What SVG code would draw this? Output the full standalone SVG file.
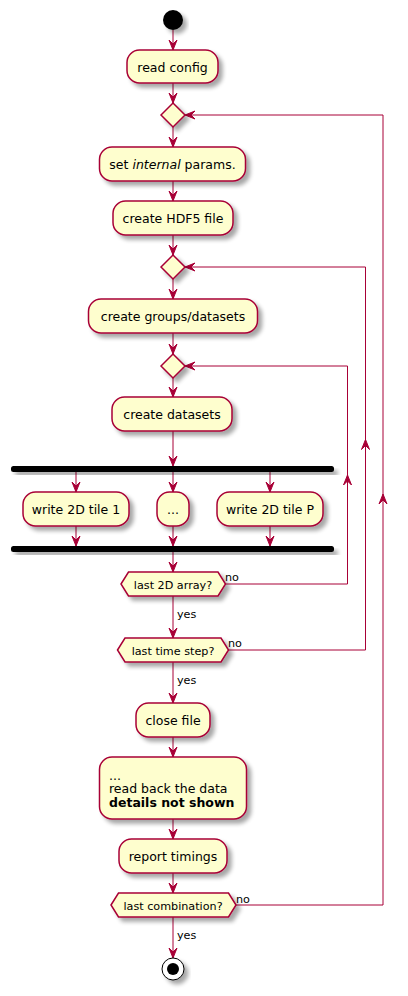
<svg xmlns="http://www.w3.org/2000/svg" xmlns:xlink="http://www.w3.org/1999/xlink" width="408" height="996" viewBox="0 0 408 996">
<style>
.box{fill:#FEFECE;stroke:#A80036;stroke-width:1.5;filter:url(#sh)}
.bar{fill:#000000;stroke:none;filter:url(#sh)}
.t{font-family:"DejaVu Sans","Liberation Sans",sans-serif;font-size:12.5px;fill:#000}
.d{font-family:"DejaVu Sans","Liberation Sans",sans-serif;font-size:11.2px;fill:#000}
.c{text-anchor:middle}
.ln{fill:none;stroke:#A80036;stroke-width:1}
</style>
<defs>
<filter id="sh" x="-20%" y="-20%" width="150%" height="170%">
<feGaussianBlur in="SourceAlpha" stdDeviation="2" result="b"/>
<feOffset in="b" dx="4" dy="4" result="o"/>
<feComponentTransfer in="o" result="s"><feFuncA type="linear" slope="0.35"/></feComponentTransfer>
<feMerge><feMergeNode in="s"/><feMergeNode in="SourceGraphic"/></feMerge>
</filter>
<path id="ah" d="M-4,-10 L0,0 L4,-10 L0,-6 Z" fill="#A80036" stroke="#A80036" stroke-width="1"/>
</defs>

<g id="connectors">
<path class="ln" d="M173,30 V50 M173,83 V103 M173,127 V147 M173,181 V201 M173,235 V255 M173,279 V299 M173,333 V354 M173,378 V397 M173,431 V466 M76,472 V492 M173,472 V492 M270,472 V492 M76,526 V546 M173,526 V546 M270,526 V546 M173,552 V572 M173,596 V638 M173,662 V703 M173,737 V757 M173,819 V839 M173,873 V893 M173,917 V958"/>
<path class="ln" d="M226,584 H347.5 V366 H185"/>
<path class="ln" d="M228,650 H365.5 V267 H185"/>
<path class="ln" d="M236,905 H383 V115 H185"/>
<use xlink:href="#ah" x="173" y="50"/>
<use xlink:href="#ah" x="173" y="103"/>
<use xlink:href="#ah" x="173" y="147"/>
<use xlink:href="#ah" x="173" y="201"/>
<use xlink:href="#ah" x="173" y="255"/>
<use xlink:href="#ah" x="173" y="299"/>
<use xlink:href="#ah" x="173" y="354"/>
<use xlink:href="#ah" x="173" y="397"/>
<use xlink:href="#ah" x="173" y="466"/>
<use xlink:href="#ah" x="76" y="492"/>
<use xlink:href="#ah" x="173" y="492"/>
<use xlink:href="#ah" x="270" y="492"/>
<use xlink:href="#ah" x="76" y="546"/>
<use xlink:href="#ah" x="173" y="546"/>
<use xlink:href="#ah" x="270" y="546"/>
<use xlink:href="#ah" x="173" y="572"/>
<use xlink:href="#ah" x="173" y="638"/>
<use xlink:href="#ah" x="173" y="703"/>
<use xlink:href="#ah" x="173" y="757"/>
<use xlink:href="#ah" x="173" y="839"/>
<use xlink:href="#ah" x="173" y="893"/>
<use xlink:href="#ah" x="173" y="958"/>
<use xlink:href="#ah" transform="translate(185,115) rotate(90)"/>
<use xlink:href="#ah" transform="translate(185,267) rotate(90)"/>
<use xlink:href="#ah" transform="translate(185,366) rotate(90)"/>
<use xlink:href="#ah" transform="translate(347.5,475) rotate(180)"/>
<use xlink:href="#ah" transform="translate(365.5,439.5) rotate(180)"/>
<use xlink:href="#ah" transform="translate(383,494) rotate(180)"/>
<text class="d" x="225" y="581">no</text>
<text class="d" x="177" y="618">yes</text>
<text class="d" x="228" y="647">no</text>
<text class="d" x="177" y="684">yes</text>
<text class="d" x="236" y="903">no</text>
<text class="d" x="177" y="939">yes</text>
</g>

<g id="start"><circle cx="173" cy="20" r="10" fill="#000" filter="url(#sh)"/></g>

<g id="read-config"><rect class="box" x="127" y="50" width="91" height="33" rx="12.5"/><text class="t c" x="172.5" y="71.5">read config</text></g>

<g id="merge1"><polygon class="box" points="161,115 173,103 185,115 173,127"/></g>

<g id="set-params"><rect class="box" x="99.5" y="147" width="146" height="34" rx="12.5"/><text class="t c" x="172.5" y="168.5">set <tspan font-style="italic">internal</tspan> params.</text></g>

<g id="create-hdf5"><rect class="box" x="113" y="201" width="120" height="34" rx="12.5"/><text class="t c" x="173" y="222.5">create HDF5 file</text></g>

<g id="merge2"><polygon class="box" points="161,267 173,255 185,267 173,279"/></g>

<g id="create-groups"><rect class="box" x="88.5" y="299" width="169" height="34" rx="12.5"/><text class="t c" x="173" y="320.5">create groups/datasets</text></g>

<g id="merge3"><polygon class="box" points="161,366 173,354 185,366 173,378"/></g>

<g id="create-datasets"><rect class="box" x="112" y="397" width="120" height="34" rx="12.5"/><text class="t c" x="172" y="418.5">create datasets</text></g>

<g id="fork"><rect class="bar" x="11" y="466" width="323" height="6" rx="2.5"/></g>

<g id="tile1"><rect class="box" x="23" y="492" width="106" height="34" rx="12.5"/><text class="t c" x="76" y="513.5">write 2D tile 1</text></g>
<g id="tile-dots"><rect class="box" x="157" y="492" width="32" height="34" rx="12.5"/><text class="t c" x="173" y="513.5">...</text></g>
<g id="tileP"><rect class="box" x="217" y="492" width="106" height="34" rx="12.5"/><text class="t c" x="270" y="513.5">write 2D tile P</text></g>

<g id="join"><rect class="bar" x="11" y="546" width="323" height="6" rx="2.5"/></g>

<g id="last-2d"><polygon class="box" points="121,584 128.5,572 218,572 225.5,584 218,596 128.5,596"/><text class="d c" x="173" y="588.5">last 2D array?</text></g>

<g id="last-time"><polygon class="box" points="117.5,650 125,638 221,638 228.5,650 221,662 125,662"/><text class="d c" x="173" y="654.5">last time step?</text></g>

<g id="close-file"><rect class="box" x="136" y="703" width="74" height="34" rx="12.5"/><text class="t c" x="173" y="724.5">close file</text></g>

<g id="read-back"><rect class="box" x="99.5" y="757" width="147" height="62" rx="12.5"/><text class="t" x="109" y="779.5">...</text><text class="t" x="109" y="793">read back the data</text><text class="t" x="109" y="807" font-weight="bold">details not shown</text></g>

<g id="report"><rect class="box" x="119" y="839" width="108" height="34" rx="12.5"/><text class="t c" x="173" y="860.5">report timings</text></g>

<g id="last-comb"><polygon class="box" points="111,905 118.5,893 228.5,893 236,905 228.5,917 118.5,917"/><text class="d c" x="173" y="909.5">last combination?</text></g>

<g id="end"><circle cx="173" cy="969" r="11" fill="#fff" stroke="#000" stroke-width="1" filter="url(#sh)"/><circle cx="173" cy="969" r="6" fill="#000"/></g>
</svg>
